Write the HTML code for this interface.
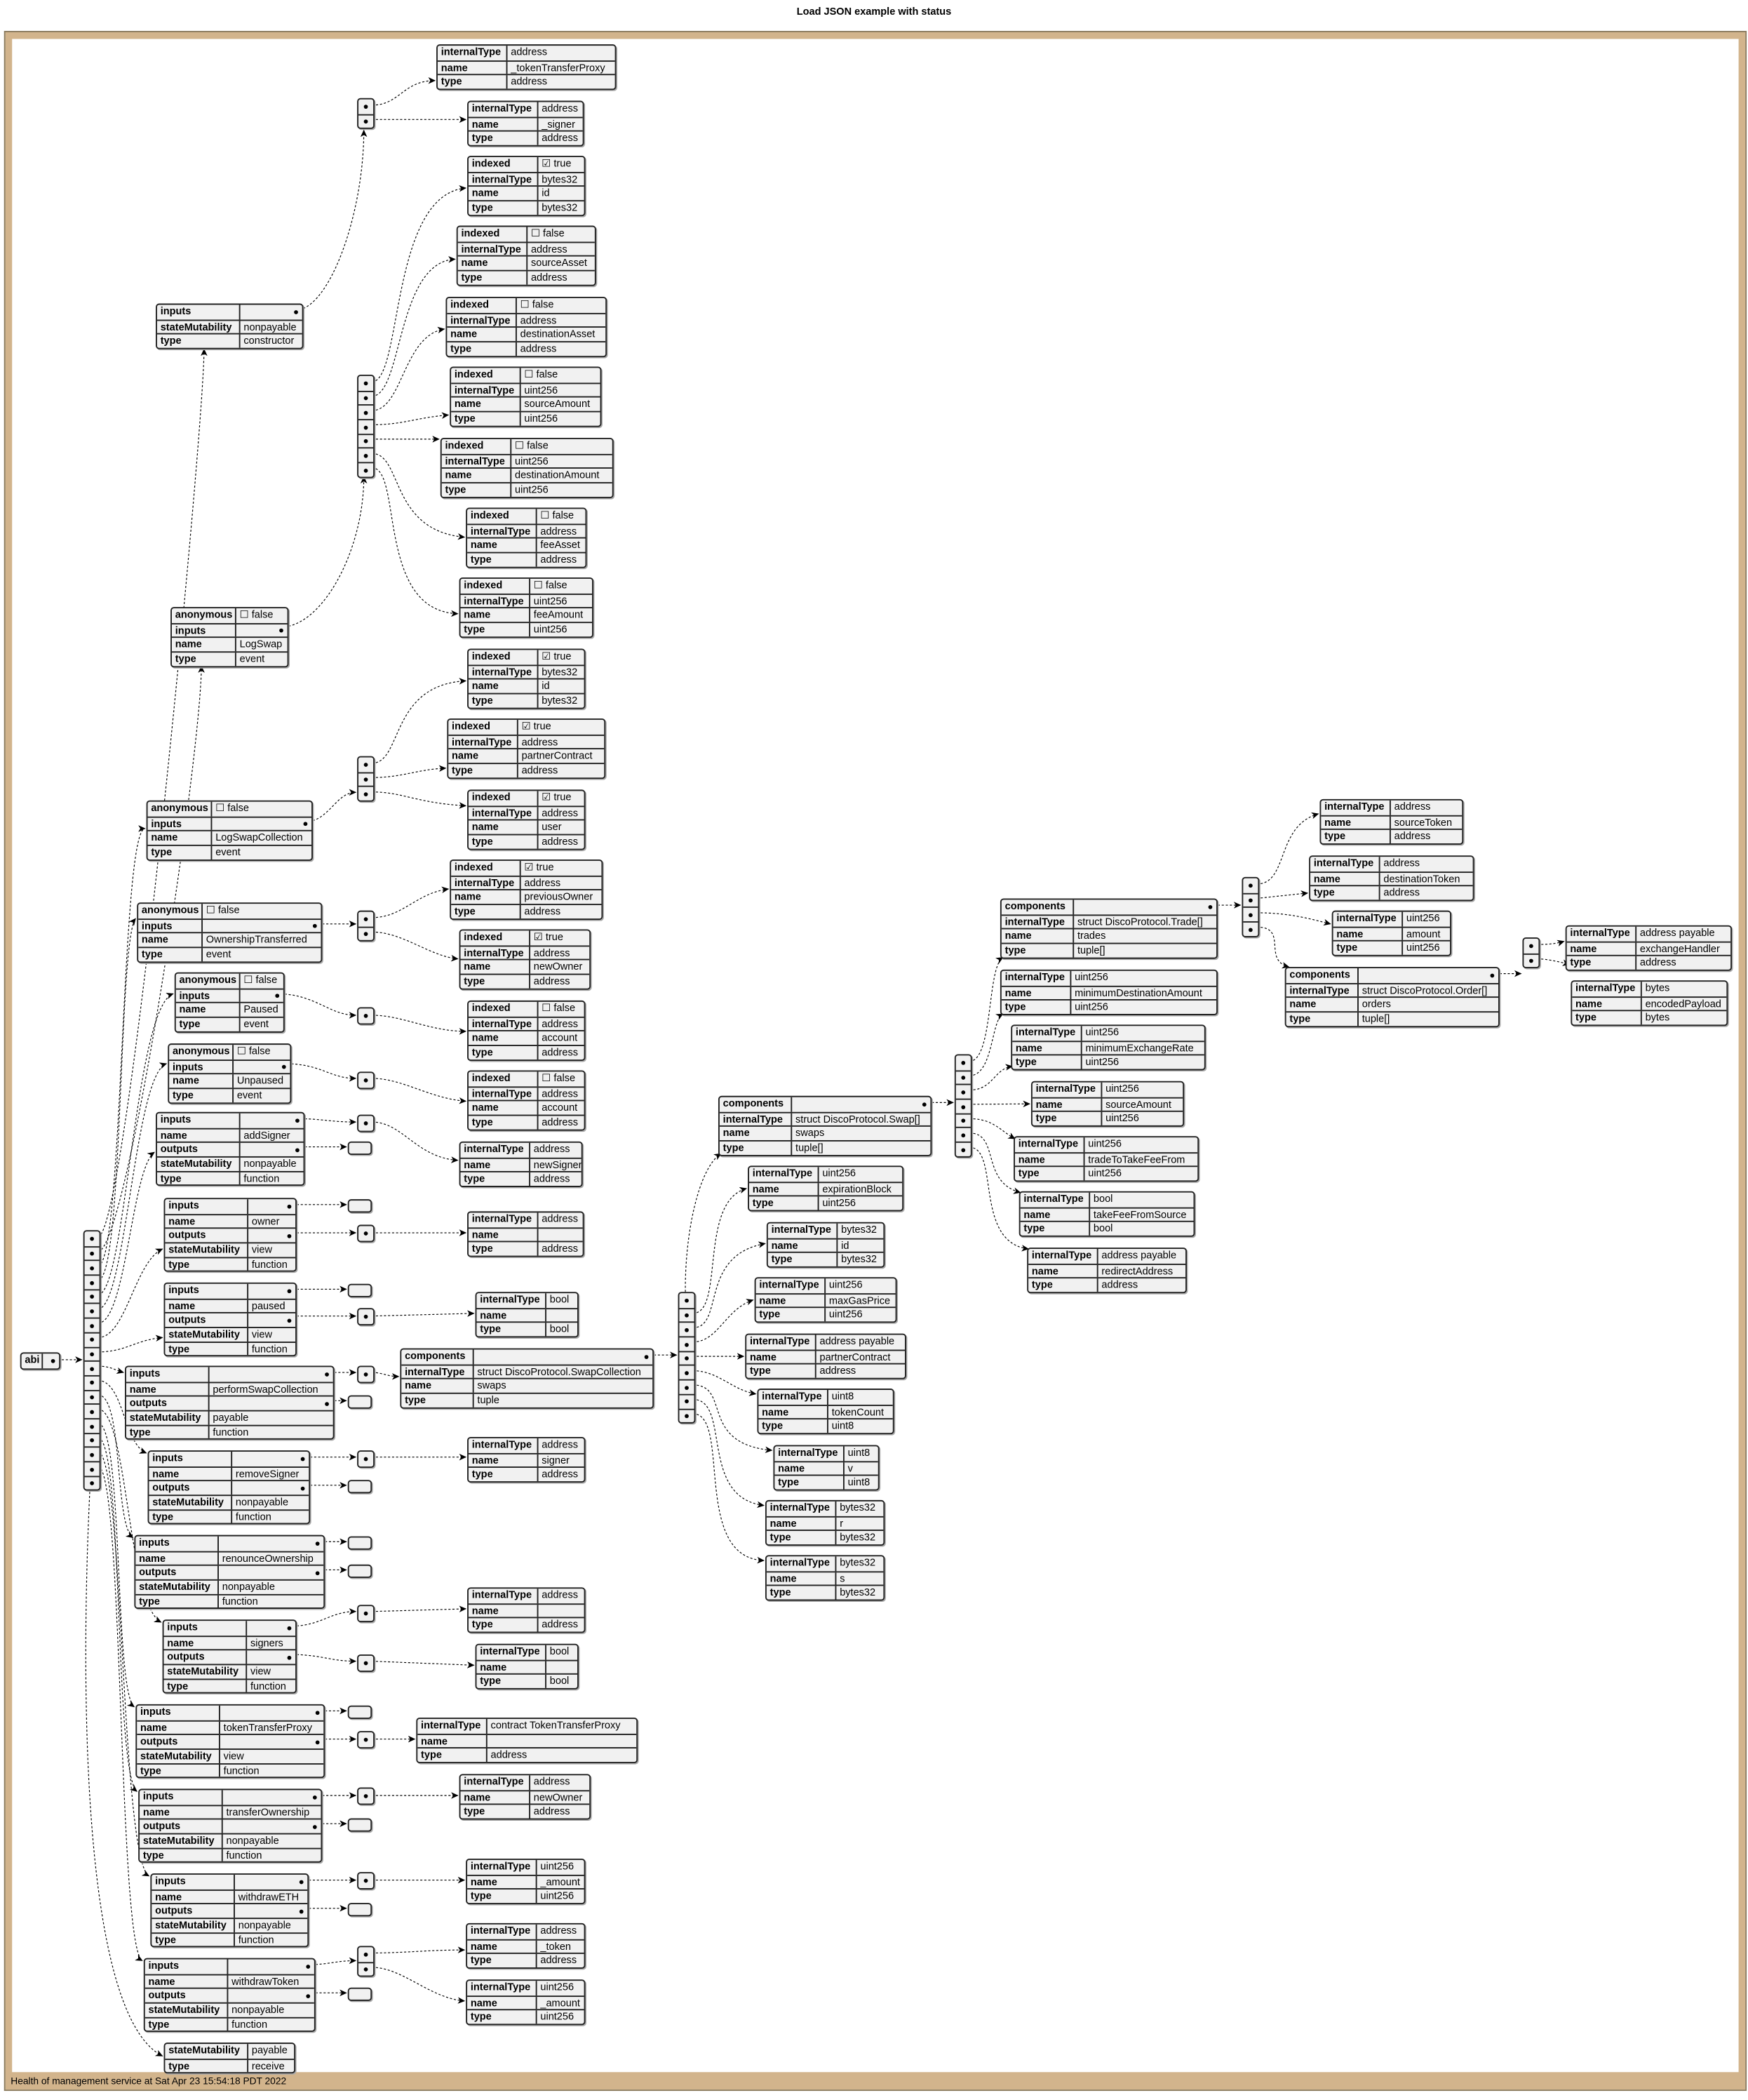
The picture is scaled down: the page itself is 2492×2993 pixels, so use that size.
<!DOCTYPE html>
<html><head><meta charset="utf-8"><style>
html,body{margin:0;padding:0;background:#fff;width:2492px;height:2993px;overflow:hidden}
#c{position:absolute;left:0;top:0;width:1302px;height:1564px;transform:scale(1.91398);transform-origin:0 0;font-family:"Liberation Sans","DejaVu Sans",sans-serif;font-size:7.6px;color:#000}
.t{position:absolute;background:#f1f1f1;border:0.8px solid #222;border-radius:2.5px;box-shadow:0.8px 0.8px 0 #aaa;overflow:hidden}
.r{display:flex;height:10.7px;line-height:10.2px;box-sizing:border-box}
.r+.r{border-top:0.6px solid #222}
.r b{width:var(--k,52px);flex:none;border-right:0.6px solid #222;padding-left:2.5px;box-sizing:border-box;white-space:nowrap;overflow:hidden}
.r span{flex:1;padding-left:2.5px;white-space:nowrap;overflow:hidden;position:relative}
.d::after{content:"";position:absolute;right:3px;top:3.6px;width:3px;height:3px;border-radius:50%;background:#000}
.a{position:absolute;width:11px;background:#f1f1f1;border:0.8px solid #222;border-radius:2.5px;box-shadow:0.8px 0.8px 0 #aaa}
.a i{display:block;height:10.7px;position:relative;box-sizing:border-box}
.a i+i{border-top:0.6px solid #222}
.a i::after{content:"";position:absolute;left:4px;top:3.6px;width:3px;height:3px;border-radius:50%;background:#000}
.e{position:absolute;width:15.5px;height:7.5px;background:#f1f1f1;border:0.8px solid #222;border-radius:2.5px;box-shadow:0.8px 0.8px 0 #aaa}
#title{position:absolute;left:0;width:1302px;top:4px;text-align:center;font-weight:bold;font-size:7.6px}
#frame{position:absolute;left:4px;top:24px;width:1286px;height:1514px;border:5px solid #d2b48c;border-bottom:13px solid #d2b48c;outline:0.6px solid #8a7a5c}
#foot{position:absolute;left:8px;top:1545px;font-size:7.2px}
svg{position:absolute;left:0;top:0}
</style></head><body><div id="c">
<div id="title">Load JSON example with status</div>
<div id="frame"></div>
<div id="foot">Health of management service at Sat Apr 23 15:54:18 PDT 2022</div>

<svg width="1302" height="1564" viewBox="0 0 1302 1564">
<defs><marker id="m" markerWidth="6" markerHeight="6" refX="5" refY="3" orient="auto" markerUnits="userSpaceOnUse"><path d="M0,0.5 L5.5,3 L0,5.5 L1.5,3 Z" fill="#000"/></marker></defs>
<g fill="none" stroke="#000" stroke-width="0.6" stroke-dasharray="1.6,1.4" marker-end="url(#m)">
<path d="M37,1012.5 L61,1012.5"/>
<path d="M73,921 C 95,921 152,320 152,260"/>
<path d="M73,932 C 95,932 150,560 150,496"/>
<path d="M73,942.7 C 92,942.7 90,617 108,617"/>
<path d="M73,953.3 C 92,953.3 88,700 101,684"/>
<path d="M73,964 C 94,964 100,750 129,740"/>
<path d="M73,974.7 C 94,974.7 100,800 124,792"/>
<path d="M73,985.3 C 94,985.3 98,870 115,858"/>
<path d="M73,996 C 94,996 100,940 121,930"/>
<path d="M73,1006.7 C 94,1006.7 100,998 121,996"/>
<path d="M73,1017.3 C 82,1017.3 85,1020 92,1022"/>
<path d="M73,1028 C 92,1028 92,1075 109,1082"/>
<path d="M73,1038.7 C 92,1038.7 85,1135 99,1145"/>
<path d="M73,1049.3 C 95,1049.3 95,1195 120,1208"/>
<path d="M73,1060 C 92,1060 85,1260 100,1271"/>
<path d="M73,1070.7 C 92,1070.7 85,1320 102,1334"/>
<path d="M73,1081.3 C 92,1081.3 90,1385 111,1397"/>
<path d="M73,1092 C 92,1092 88,1450 106,1460"/>
<path d="M67,1108 C 60,1250 60,1500 121,1531"/>
<path d="M220,231 C 245,231 271,160 271,97"/>
<path d="M277,78.3 C 298,78.3 300,60 324,60"/>
<path d="M277,89 L347,89"/>
<path d="M209,467 C 240,467 271,410 271,355"/>
<path d="M277,284.3 C 300,284.3 290,145 347,140"/>
<path d="M277,295 C 300,295 295,195 339,193"/>
<path d="M277,305.7 C 300,305.7 300,250 331,245"/>
<path d="M277,316.3 C 300,316.3 310,311 334,309"/>
<path d="M277,327 L327,327"/>
<path d="M277,337.7 C 300,337.7 290,395 346,400"/>
<path d="M277,348.3 C 300,348.3 280,455 341,457"/>
<path d="M227,612 C 245,612 250,590 265,590"/>
<path d="M277,568.3 C 300,568.3 290,510 347,507"/>
<path d="M277,579 C 300,579 310,573 332,572"/>
<path d="M277,589.7 C 300,589.7 310,598 347,600"/>
<path d="M234,688 L265,688"/>
<path d="M277,683.3 C 300,683.3 310,665 334,662"/>
<path d="M277,694 C 300,694 320,712 341,714"/>
<path d="M206,740 C 235,740 245,756 265,756"/>
<path d="M277,756 C 300,756 320,768 347,768"/>
<path d="M211,792 C 240,792 245,803 265,803"/>
<path d="M277,803 C 300,803 320,818 347,820"/>
<path d="M221,833 C 240,833 245,835.5 265,835.5"/>
<path d="M221,854 L258,854"/>
<path d="M277,835.5 C 300,835.5 310,862 341,864"/>
<path d="M215,897 L258,897"/>
<path d="M215,918 L265,918"/>
<path d="M277,918 L347,918"/>
<path d="M215,960 L258,960"/>
<path d="M215,980 L265,980"/>
<path d="M277,980 L353,978"/>
<path d="M243,1022 L265,1022"/>
<path d="M243,1043 L258,1043"/>
<path d="M277,1022 C 285,1022 288,1025 297,1025"/>
<path d="M481,1009 L504,1009"/>
<path d="M510.5,962 C 510,920 520,870 537,859"/>
<path d="M516,978 C 540,978 520,895 556,885"/>
<path d="M516,988.7 C 540,988.7 520,935 570,926"/>
<path d="M516,999.3 C 535,999.3 540,975 561,968"/>
<path d="M516,1010 L554,1010"/>
<path d="M516,1020.7 C 535,1020.7 545,1035 563,1038"/>
<path d="M516,1031.3 C 545,1031.3 520,1075 575,1080"/>
<path d="M516,1042 C 545,1042 520,1115 569,1121"/>
<path d="M516,1052.7 C 545,1052.7 515,1160 569,1162"/>
<path d="M688,821 L710,821"/>
<path d="M722,790.3 C 740,790.3 735,720 747,713"/>
<path d="M722,801 C 740,801 738,760 747,755"/>
<path d="M722,811.7 C 740,811.7 740,796 754,794"/>
<path d="M722,822.3 L767,822"/>
<path d="M722,833 C 740,833 745,842 756,848"/>
<path d="M722,843.7 C 745,843.7 730,880 760,888"/>
<path d="M722,854.3 C 745,854.3 725,925 766,930"/>
<path d="M901,674 L924,674"/>
<path d="M936,658.3 C 960,658.3 950,615 982,606"/>
<path d="M936,669 L974,665"/>
<path d="M936,679.7 C 960,679.7 975,684 991,688"/>
<path d="M936,690.3 C 960,690.3 940,715 960,720"/>
<path d="M1111,725 L1133,725"/>
<path d="M1145,703.3 C 1152,703.3 1158,703 1165,701"/>
<path d="M1145,714 C 1152,714 1160,716 1169,718"/>
<path d="M225,1085 L265,1085"/>
<path d="M225,1106 L258,1106"/>
<path d="M277,1085 L347,1085"/>
<path d="M236,1148 L258,1148"/>
<path d="M236,1169 L258,1169"/>
<path d="M215,1211 C 240,1211 245,1200 265,1200"/>
<path d="M277,1200 L347,1198"/>
<path d="M215,1232 C 240,1232 245,1237 265,1237"/>
<path d="M277,1237 L353,1240"/>
<path d="M236,1274 L258,1274"/>
<path d="M236,1295 L265,1295"/>
<path d="M277,1295 L309,1295"/>
<path d="M234,1337 L265,1337"/>
<path d="M234,1358 L258,1358"/>
<path d="M277,1337 L341,1337"/>
<path d="M224,1400 L265,1400"/>
<path d="M224,1421 L258,1421"/>
<path d="M277,1400 L346,1400"/>
<path d="M229,1463 C 245,1463 250,1460 265,1460"/>
<path d="M229,1484 L258,1484"/>
<path d="M277,1454.3 C 300,1454.3 320,1452 346,1452"/>
<path d="M277,1465 C 300,1465 320,1488 346,1490"/>
</g></svg>

<div class="t" style="left:15px;top:1007px;width:28px;--k:16px"><div class="r"><b>abi</b><span class="d"></span></div></div>
<div class="a" style="left:62px;top:916px"><i></i><i></i><i></i><i></i><i></i><i></i><i></i><i></i><i></i><i></i><i></i><i></i><i></i><i></i><i></i><i></i><i></i><i></i></div>

<div class="t" style="left:116px;top:226px;width:108px;--k:62px"><div class="r"><b>inputs</b><span class="d"></span></div><div class="r"><b>stateMutability</b><span>nonpayable</span></div><div class="r"><b>type</b><span>constructor</span></div></div>
<div class="a" style="left:266px;top:73px"><i></i><i></i></div>
<div class="t" style="left:325px;top:33px;width:132px"><div class="r"><b>internalType</b><span>address</span></div><div class="r"><b>name</b><span>_tokenTransferProxy</span></div><div class="r"><b>type</b><span>address</span></div></div>
<div class="t" style="left:348px;top:75px;width:85px"><div class="r"><b>internalType</b><span>address</span></div><div class="r"><b>name</b><span>_signer</span></div><div class="r"><b>type</b><span>address</span></div></div>

<div class="t" style="left:127px;top:452px;width:86px;--k:48px"><div class="r"><b>anonymous</b><span>☐ false</span></div><div class="r"><b>inputs</b><span class="d"></span></div><div class="r"><b>name</b><span>LogSwap</span></div><div class="r"><b>type</b><span>event</span></div></div>
<div class="a" style="left:266px;top:279px"><i></i><i></i><i></i><i></i><i></i><i></i><i></i></div>
<div class="t" style="left:348px;top:116px;width:86px"><div class="r"><b>indexed</b><span>☑ true</span></div><div class="r"><b>internalType</b><span>bytes32</span></div><div class="r"><b>name</b><span>id</span></div><div class="r"><b>type</b><span>bytes32</span></div></div>
<div class="t" style="left:340px;top:168px;width:102px"><div class="r"><b>indexed</b><span>☐ false</span></div><div class="r"><b>internalType</b><span>address</span></div><div class="r"><b>name</b><span>sourceAsset</span></div><div class="r"><b>type</b><span>address</span></div></div>
<div class="t" style="left:332px;top:221px;width:118px"><div class="r"><b>indexed</b><span>☐ false</span></div><div class="r"><b>internalType</b><span>address</span></div><div class="r"><b>name</b><span>destinationAsset</span></div><div class="r"><b>type</b><span>address</span></div></div>
<div class="t" style="left:335px;top:273px;width:111px"><div class="r"><b>indexed</b><span>☐ false</span></div><div class="r"><b>internalType</b><span>uint256</span></div><div class="r"><b>name</b><span>sourceAmount</span></div><div class="r"><b>type</b><span>uint256</span></div></div>
<div class="t" style="left:328px;top:326px;width:127px"><div class="r"><b>indexed</b><span>☐ false</span></div><div class="r"><b>internalType</b><span>uint256</span></div><div class="r"><b>name</b><span>destinationAmount</span></div><div class="r"><b>type</b><span>uint256</span></div></div>
<div class="t" style="left:347px;top:378px;width:88px"><div class="r"><b>indexed</b><span>☐ false</span></div><div class="r"><b>internalType</b><span>address</span></div><div class="r"><b>name</b><span>feeAsset</span></div><div class="r"><b>type</b><span>address</span></div></div>
<div class="t" style="left:342px;top:430px;width:98px"><div class="r"><b>indexed</b><span>☐ false</span></div><div class="r"><b>internalType</b><span>uint256</span></div><div class="r"><b>name</b><span>feeAmount</span></div><div class="r"><b>type</b><span>uint256</span></div></div>

<div class="t" style="left:109px;top:596px;width:122px;--k:48px"><div class="r"><b>anonymous</b><span>☐ false</span></div><div class="r"><b>inputs</b><span class="d"></span></div><div class="r"><b>name</b><span>LogSwapCollection</span></div><div class="r"><b>type</b><span>event</span></div></div>
<div class="a" style="left:266px;top:563px"><i></i><i></i><i></i></div>
<div class="t" style="left:348px;top:483px;width:86px"><div class="r"><b>indexed</b><span>☑ true</span></div><div class="r"><b>internalType</b><span>bytes32</span></div><div class="r"><b>name</b><span>id</span></div><div class="r"><b>type</b><span>bytes32</span></div></div>
<div class="t" style="left:333px;top:535px;width:116px"><div class="r"><b>indexed</b><span>☑ true</span></div><div class="r"><b>internalType</b><span>address</span></div><div class="r"><b>name</b><span>partnerContract</span></div><div class="r"><b>type</b><span>address</span></div></div>
<div class="t" style="left:348px;top:588px;width:86px"><div class="r"><b>indexed</b><span>☑ true</span></div><div class="r"><b>internalType</b><span>address</span></div><div class="r"><b>name</b><span>user</span></div><div class="r"><b>type</b><span>address</span></div></div>

<div class="t" style="left:102px;top:672px;width:136px;--k:48px"><div class="r"><b>anonymous</b><span>☐ false</span></div><div class="r"><b>inputs</b><span class="d"></span></div><div class="r"><b>name</b><span>OwnershipTransferred</span></div><div class="r"><b>type</b><span>event</span></div></div>
<div class="a" style="left:266px;top:678px"><i></i><i></i></div>
<div class="t" style="left:335px;top:640px;width:112px"><div class="r"><b>indexed</b><span>☑ true</span></div><div class="r"><b>internalType</b><span>address</span></div><div class="r"><b>name</b><span>previousOwner</span></div><div class="r"><b>type</b><span>address</span></div></div>
<div class="t" style="left:342px;top:692px;width:96px"><div class="r"><b>indexed</b><span>☑ true</span></div><div class="r"><b>internalType</b><span>address</span></div><div class="r"><b>name</b><span>newOwner</span></div><div class="r"><b>type</b><span>address</span></div></div>

<div class="t" style="left:130px;top:724px;width:80px;--k:48px"><div class="r"><b>anonymous</b><span>☐ false</span></div><div class="r"><b>inputs</b><span class="d"></span></div><div class="r"><b>name</b><span>Paused</span></div><div class="r"><b>type</b><span>event</span></div></div>
<div class="a" style="left:266px;top:750px"><i></i></div>
<div class="t" style="left:348px;top:745px;width:86px"><div class="r"><b>indexed</b><span>☐ false</span></div><div class="r"><b>internalType</b><span>address</span></div><div class="r"><b>name</b><span>account</span></div><div class="r"><b>type</b><span>address</span></div></div>

<div class="t" style="left:125px;top:777px;width:90px;--k:48px"><div class="r"><b>anonymous</b><span>☐ false</span></div><div class="r"><b>inputs</b><span class="d"></span></div><div class="r"><b>name</b><span>Unpaused</span></div><div class="r"><b>type</b><span>event</span></div></div>
<div class="a" style="left:266px;top:798px"><i></i></div>
<div class="t" style="left:348px;top:797px;width:86px"><div class="r"><b>indexed</b><span>☐ false</span></div><div class="r"><b>internalType</b><span>address</span></div><div class="r"><b>name</b><span>account</span></div><div class="r"><b>type</b><span>address</span></div></div>

<div class="t" style="left:116px;top:828px;width:109px;--k:62px"><div class="r"><b>inputs</b><span class="d"></span></div><div class="r"><b>name</b><span>addSigner</span></div><div class="r"><b>outputs</b><span class="d"></span></div><div class="r"><b>stateMutability</b><span>nonpayable</span></div><div class="r"><b>type</b><span>function</span></div></div>
<div class="a" style="left:266px;top:830px"><i></i></div>
<div class="e" style="left:259px;top:850px"></div>
<div class="t" style="left:342px;top:850px;width:90px"><div class="r"><b>internalType</b><span>address</span></div><div class="r"><b>name</b><span>newSigner</span></div><div class="r"><b>type</b><span>address</span></div></div>

<div class="t" style="left:122px;top:892px;width:97px;--k:62px"><div class="r"><b>inputs</b><span class="d"></span></div><div class="r"><b>name</b><span>owner</span></div><div class="r"><b>outputs</b><span class="d"></span></div><div class="r"><b>stateMutability</b><span>view</span></div><div class="r"><b>type</b><span>function</span></div></div>
<div class="e" style="left:259px;top:893px"></div>
<div class="a" style="left:266px;top:912px"><i></i></div>
<div class="t" style="left:348px;top:902px;width:85px"><div class="r"><b>internalType</b><span>address</span></div><div class="r"><b>name</b><span></span></div><div class="r"><b>type</b><span>address</span></div></div>

<div class="t" style="left:122px;top:955px;width:97px;--k:62px"><div class="r"><b>inputs</b><span class="d"></span></div><div class="r"><b>name</b><span>paused</span></div><div class="r"><b>outputs</b><span class="d"></span></div><div class="r"><b>stateMutability</b><span>view</span></div><div class="r"><b>type</b><span>function</span></div></div>
<div class="e" style="left:259px;top:956px"></div>
<div class="a" style="left:266px;top:974px"><i></i></div>
<div class="t" style="left:354px;top:962px;width:75px"><div class="r"><b>internalType</b><span>bool</span></div><div class="r"><b>name</b><span></span></div><div class="r"><b>type</b><span>bool</span></div></div>

<div class="t" style="left:93px;top:1017px;width:154px;--k:62px"><div class="r"><b>inputs</b><span class="d"></span></div><div class="r"><b>name</b><span>performSwapCollection</span></div><div class="r"><b>outputs</b><span class="d"></span></div><div class="r"><b>stateMutability</b><span>payable</span></div><div class="r"><b>type</b><span>function</span></div></div>
<div class="a" style="left:266px;top:1017px"><i></i></div>
<div class="e" style="left:259px;top:1039px"></div>
<div class="t" style="left:298px;top:1004px;width:187px;--k:54px"><div class="r"><b>components</b><span class="d"></span></div><div class="r"><b>internalType</b><span>struct DiscoProtocol.SwapCollection</span></div><div class="r"><b>name</b><span>swaps</span></div><div class="r"><b>type</b><span>tuple</span></div></div>
<div class="a" style="left:505px;top:962px"><i></i><i></i><i></i><i></i><i></i><i></i><i></i><i></i><i></i></div>
<div class="t" style="left:535px;top:816px;width:157px;--k:54px"><div class="r"><b>components</b><span class="d"></span></div><div class="r"><b>internalType</b><span>struct DiscoProtocol.Swap[]</span></div><div class="r"><b>name</b><span>swaps</span></div><div class="r"><b>type</b><span>tuple[]</span></div></div>
<div class="t" style="left:557px;top:868px;width:114px"><div class="r"><b>internalType</b><span>uint256</span></div><div class="r"><b>name</b><span>expirationBlock</span></div><div class="r"><b>type</b><span>uint256</span></div></div>
<div class="t" style="left:571px;top:910px;width:86px"><div class="r"><b>internalType</b><span>bytes32</span></div><div class="r"><b>name</b><span>id</span></div><div class="r"><b>type</b><span>bytes32</span></div></div>
<div class="t" style="left:562px;top:951px;width:104px"><div class="r"><b>internalType</b><span>uint256</span></div><div class="r"><b>name</b><span>maxGasPrice</span></div><div class="r"><b>type</b><span>uint256</span></div></div>
<div class="t" style="left:555px;top:993px;width:118px"><div class="r"><b>internalType</b><span>address payable</span></div><div class="r"><b>name</b><span>partnerContract</span></div><div class="r"><b>type</b><span>address</span></div></div>
<div class="t" style="left:564px;top:1034px;width:100px"><div class="r"><b>internalType</b><span>uint8</span></div><div class="r"><b>name</b><span>tokenCount</span></div><div class="r"><b>type</b><span>uint8</span></div></div>
<div class="t" style="left:576px;top:1076px;width:77px"><div class="r"><b>internalType</b><span>uint8</span></div><div class="r"><b>name</b><span>v</span></div><div class="r"><b>type</b><span>uint8</span></div></div>
<div class="t" style="left:570px;top:1117px;width:87px"><div class="r"><b>internalType</b><span>bytes32</span></div><div class="r"><b>name</b><span>r</span></div><div class="r"><b>type</b><span>bytes32</span></div></div>
<div class="t" style="left:570px;top:1158px;width:87px"><div class="r"><b>internalType</b><span>bytes32</span></div><div class="r"><b>name</b><span>s</span></div><div class="r"><b>type</b><span>bytes32</span></div></div>

<div class="a" style="left:711px;top:785px"><i></i><i></i><i></i><i></i><i></i><i></i><i></i></div>
<div class="t" style="left:745px;top:669px;width:160px;--k:54px"><div class="r"><b>components</b><span class="d"></span></div><div class="r"><b>internalType</b><span>struct DiscoProtocol.Trade[]</span></div><div class="r"><b>name</b><span>trades</span></div><div class="r"><b>type</b><span>tuple[]</span></div></div>
<div class="t" style="left:745px;top:722px;width:160px"><div class="r"><b>internalType</b><span>uint256</span></div><div class="r"><b>name</b><span>minimumDestinationAmount</span></div><div class="r"><b>type</b><span>uint256</span></div></div>
<div class="t" style="left:753px;top:763px;width:143px"><div class="r"><b>internalType</b><span>uint256</span></div><div class="r"><b>name</b><span>minimumExchangeRate</span></div><div class="r"><b>type</b><span>uint256</span></div></div>
<div class="t" style="left:768px;top:805px;width:112px"><div class="r"><b>internalType</b><span>uint256</span></div><div class="r"><b>name</b><span>sourceAmount</span></div><div class="r"><b>type</b><span>uint256</span></div></div>
<div class="t" style="left:755px;top:846px;width:136px"><div class="r"><b>internalType</b><span>uint256</span></div><div class="r"><b>name</b><span>tradeToTakeFeeFrom</span></div><div class="r"><b>type</b><span>uint256</span></div></div>
<div class="t" style="left:759px;top:887px;width:129px"><div class="r"><b>internalType</b><span>bool</span></div><div class="r"><b>name</b><span>takeFeeFromSource</span></div><div class="r"><b>type</b><span>bool</span></div></div>
<div class="t" style="left:765px;top:929px;width:117px"><div class="r"><b>internalType</b><span>address payable</span></div><div class="r"><b>name</b><span>redirectAddress</span></div><div class="r"><b>type</b><span>address</span></div></div>

<div class="a" style="left:925px;top:653px"><i></i><i></i><i></i><i></i></div>
<div class="t" style="left:983px;top:595px;width:105px"><div class="r"><b>internalType</b><span>address</span></div><div class="r"><b>name</b><span>sourceToken</span></div><div class="r"><b>type</b><span>address</span></div></div>
<div class="t" style="left:975px;top:637px;width:121px"><div class="r"><b>internalType</b><span>address</span></div><div class="r"><b>name</b><span>destinationToken</span></div><div class="r"><b>type</b><span>address</span></div></div>
<div class="t" style="left:992px;top:678px;width:87px"><div class="r"><b>internalType</b><span>uint256</span></div><div class="r"><b>name</b><span>amount</span></div><div class="r"><b>type</b><span>uint256</span></div></div>
<div class="t" style="left:957px;top:720px;width:158px;--k:54px"><div class="r"><b>components</b><span class="d"></span></div><div class="r"><b>internalType</b><span>struct DiscoProtocol.Order[]</span></div><div class="r"><b>name</b><span>orders</span></div><div class="r"><b>type</b><span>tuple[]</span></div></div>
<div class="a" style="left:1134px;top:698px"><i></i><i></i></div>
<div class="t" style="left:1166px;top:689px;width:122px"><div class="r"><b>internalType</b><span>address payable</span></div><div class="r"><b>name</b><span>exchangeHandler</span></div><div class="r"><b>type</b><span>address</span></div></div>
<div class="t" style="left:1170px;top:730px;width:115px"><div class="r"><b>internalType</b><span>bytes</span></div><div class="r"><b>name</b><span>encodedPayload</span></div><div class="r"><b>type</b><span>bytes</span></div></div>

<div class="t" style="left:110px;top:1080px;width:119px;--k:62px"><div class="r"><b>inputs</b><span class="d"></span></div><div class="r"><b>name</b><span>removeSigner</span></div><div class="r"><b>outputs</b><span class="d"></span></div><div class="r"><b>stateMutability</b><span>nonpayable</span></div><div class="r"><b>type</b><span>function</span></div></div>
<div class="a" style="left:266px;top:1080px"><i></i></div>
<div class="e" style="left:259px;top:1102px"></div>
<div class="t" style="left:348px;top:1070px;width:86px"><div class="r"><b>internalType</b><span>address</span></div><div class="r"><b>name</b><span>signer</span></div><div class="r"><b>type</b><span>address</span></div></div>

<div class="t" style="left:100px;top:1143px;width:140px;--k:62px"><div class="r"><b>inputs</b><span class="d"></span></div><div class="r"><b>name</b><span>renounceOwnership</span></div><div class="r"><b>outputs</b><span class="d"></span></div><div class="r"><b>stateMutability</b><span>nonpayable</span></div><div class="r"><b>type</b><span>function</span></div></div>
<div class="e" style="left:259px;top:1144px"></div>
<div class="e" style="left:259px;top:1165px"></div>

<div class="t" style="left:121px;top:1206px;width:98px;--k:62px"><div class="r"><b>inputs</b><span class="d"></span></div><div class="r"><b>name</b><span>signers</span></div><div class="r"><b>outputs</b><span class="d"></span></div><div class="r"><b>stateMutability</b><span>view</span></div><div class="r"><b>type</b><span>function</span></div></div>
<div class="a" style="left:266px;top:1195px"><i></i></div>
<div class="a" style="left:266px;top:1232px"><i></i></div>
<div class="t" style="left:348px;top:1182px;width:86px"><div class="r"><b>internalType</b><span>address</span></div><div class="r"><b>name</b><span></span></div><div class="r"><b>type</b><span>address</span></div></div>
<div class="t" style="left:354px;top:1224px;width:75px"><div class="r"><b>internalType</b><span>bool</span></div><div class="r"><b>name</b><span></span></div><div class="r"><b>type</b><span>bool</span></div></div>

<div class="t" style="left:101px;top:1269px;width:139px;--k:62px"><div class="r"><b>inputs</b><span class="d"></span></div><div class="r"><b>name</b><span>tokenTransferProxy</span></div><div class="r"><b>outputs</b><span class="d"></span></div><div class="r"><b>stateMutability</b><span>view</span></div><div class="r"><b>type</b><span>function</span></div></div>
<div class="e" style="left:259px;top:1270px"></div>
<div class="a" style="left:266px;top:1289px"><i></i></div>
<div class="t" style="left:310px;top:1279px;width:163px"><div class="r"><b>internalType</b><span>contract TokenTransferProxy</span></div><div class="r"><b>name</b><span></span></div><div class="r"><b>type</b><span>address</span></div></div>

<div class="t" style="left:103px;top:1332px;width:135px;--k:62px"><div class="r"><b>inputs</b><span class="d"></span></div><div class="r"><b>name</b><span>transferOwnership</span></div><div class="r"><b>outputs</b><span class="d"></span></div><div class="r"><b>stateMutability</b><span>nonpayable</span></div><div class="r"><b>type</b><span>function</span></div></div>
<div class="a" style="left:266px;top:1331px"><i></i></div>
<div class="e" style="left:259px;top:1354px"></div>
<div class="t" style="left:342px;top:1321px;width:96px"><div class="r"><b>internalType</b><span>address</span></div><div class="r"><b>name</b><span>newOwner</span></div><div class="r"><b>type</b><span>address</span></div></div>

<div class="t" style="left:112px;top:1395px;width:116px;--k:62px"><div class="r"><b>inputs</b><span class="d"></span></div><div class="r"><b>name</b><span>withdrawETH</span></div><div class="r"><b>outputs</b><span class="d"></span></div><div class="r"><b>stateMutability</b><span>nonpayable</span></div><div class="r"><b>type</b><span>function</span></div></div>
<div class="a" style="left:266px;top:1394px"><i></i></div>
<div class="e" style="left:259px;top:1417px"></div>
<div class="t" style="left:347px;top:1384px;width:87px"><div class="r"><b>internalType</b><span>uint256</span></div><div class="r"><b>name</b><span>_amount</span></div><div class="r"><b>type</b><span>uint256</span></div></div>

<div class="t" style="left:107px;top:1458px;width:126px;--k:62px"><div class="r"><b>inputs</b><span class="d"></span></div><div class="r"><b>name</b><span>withdrawToken</span></div><div class="r"><b>outputs</b><span class="d"></span></div><div class="r"><b>stateMutability</b><span>nonpayable</span></div><div class="r"><b>type</b><span>function</span></div></div>
<div class="a" style="left:266px;top:1449px"><i></i><i></i></div>
<div class="e" style="left:259px;top:1480px"></div>
<div class="t" style="left:347px;top:1432px;width:87px"><div class="r"><b>internalType</b><span>address</span></div><div class="r"><b>name</b><span>_token</span></div><div class="r"><b>type</b><span>address</span></div></div>
<div class="t" style="left:347px;top:1474px;width:87px"><div class="r"><b>internalType</b><span>uint256</span></div><div class="r"><b>name</b><span>_amount</span></div><div class="r"><b>type</b><span>uint256</span></div></div>

<div class="t" style="left:122px;top:1521px;width:96px;--k:62px"><div class="r"><b>stateMutability</b><span>payable</span></div><div class="r"><b>type</b><span>receive</span></div></div>
</div></body></html>
